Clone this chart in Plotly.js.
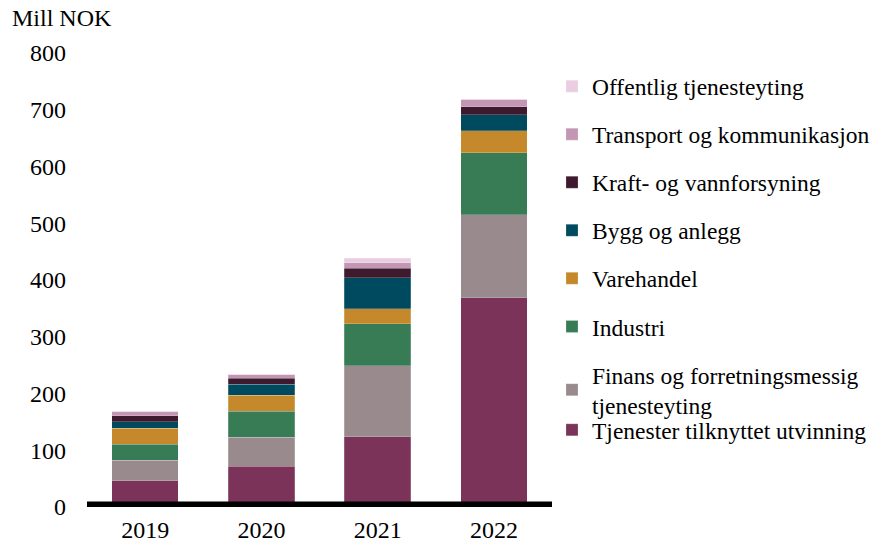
<!DOCTYPE html>
<html>
<head>
<meta charset="utf-8">
<script src="https://cdn.plot.ly/plotly-3.0.1.min.js"></script>
<style>html,body{margin:0;padding:0;background:#fff;}#chart{width:876px;height:546px;}</style>
</head>
<body>
<div id="chart"></div>
<script>
var years = ['2019', '2020', '2021', '2022'];
var tjenester = [46, 72, 124, 369];
var finans = [36, 51, 125, 146];
var industri = [29, 46, 74, 109];
var varehandel = [28, 28, 26, 39];
var bygg = [11, 19, 55, 28];
var kraft = [11, 11, 17, 14];
var transport = [7, 6, 9, 13];
var offentlig = [1, 1, 8, 1];
var yTicks = [0, 100, 200, 300, 400, 500, 600, 700, 800];

var FONT = 'Liberation Serif, serif';
var series = [
  {name: 'Tjenester tilknyttet utvinning', y: tjenester, color: '#7B3359', legend: 'legend2'},
  {name: 'Finans og forretningsmessig<br>tjenesteyting', y: finans, color: '#998A8D', legend: 'legend'},
  {name: 'Industri', y: industri, color: '#387C55', legend: 'legend'},
  {name: 'Varehandel', y: varehandel, color: '#C5892C', legend: 'legend'},
  {name: 'Bygg og anlegg', y: bygg, color: '#004A60', legend: 'legend'},
  {name: 'Kraft- og vannforsyning', y: kraft, color: '#3D1A2E', legend: 'legend'},
  {name: 'Transport og kommunikasjon', y: transport, color: '#C396B3', legend: 'legend'},
  {name: 'Offentlig tjenesteyting', y: offentlig, color: '#EACDE0', legend: 'legend'}
];

var traces = series.map(function (s, i) {
  return {
    type: 'bar', x: years, y: s.y, name: s.name,
    legend: s.legend, legendgroup: 'g' + i, legendrank: series.length - i,
    marker: {color: s.color, line: {color: 'rgba(255,255,255,0.35)', width: 0.6}},
    hoverinfo: 'x+y+name'
  };
});

var layout = {
  width: 876, height: 546,
  margin: {l: 87, r: 324, t: 53, b: 39, autoexpand: false},
  paper_bgcolor: '#fff', plot_bgcolor: '#fff',
  barmode: 'stack', bargap: 0.43,
  font: {family: FONT, size: 23, color: '#000'},
  xaxis: {type: 'category', showgrid: false, zeroline: false, showline: false, ticks: '', tickfont: {family: FONT, size: 24}, ticklabelstandoff: 6},
  yaxis: {range: [0, 800], tickvals: yTicks, showgrid: false, zeroline: false, showline: false, ticks: '', tickfont: {family: FONT, size: 24}, ticklabelstandoff: 20},
  legend: {x: 1.0, xanchor: 'left', y: 0.975, yanchor: 'top', traceorder: 'grouped', tracegroupgap: 14.5, font: {family: FONT, size: 23.5}, bgcolor: 'rgba(0,0,0,0)'},
  legend2: {x: 1.0, xanchor: 'left', y: 0.218, yanchor: 'top', font: {family: FONT, size: 23.5}, bgcolor: 'rgba(0,0,0,0)'},
  shapes: [{type: 'line', xref: 'paper', yref: 'y', x0: 0, x1: 1, y0: 0, y1: 0, line: {color: '#000', width: 11}}],
  annotations: [{text: 'Mill NOK', xref: 'paper', yref: 'paper', x: -0.166, y: 1.077, xanchor: 'left', yanchor: 'middle', showarrow: false, font: {family: FONT, size: 24}}]
};

Plotly.newPlot('chart', traces, layout, {displayModeBar: false, staticPlot: true});
</script>
</body>
</html>
